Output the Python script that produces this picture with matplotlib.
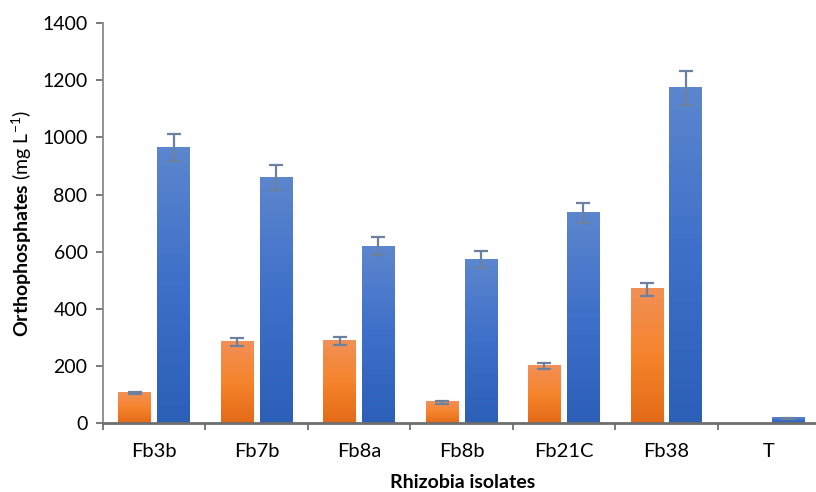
import numpy as np
import matplotlib.pyplot as plt
from matplotlib.colors import LinearSegmentedColormap

plt.rcParams['font.family'] = ['Lato', 'DejaVu Sans']
plt.rcParams['mathtext.fontset'] = 'custom'
plt.rcParams['mathtext.rm'] = 'Lato'
plt.rcParams['mathtext.bf'] = 'Lato:bold'
plt.rcParams['mathtext.it'] = 'Lato:italic'

isolates = ['Fb3b', 'Fb7b', 'Fb8a', 'Fb8b', 'Fb21C', 'Fb38', 'T']
orange_vals = [106, 284, 287, 74, 200, 469, 0]
orange_err = [5, 14, 14, 5, 11, 23, 0]
blue_vals = [964, 860, 619, 573, 737, 1174, 18]
blue_err = [48, 44, 32, 29, 35, 59, 2]

orange_cmap = LinearSegmentedColormap.from_list('og', ['#E46A17', '#F5842C', '#F29057'])
blue_cmap = LinearSegmentedColormap.from_list('bg', ['#2C5FB8', '#3E6FC9', '#5C86CE'])

fig = plt.figure(figsize=(8.16, 4.92), dpi=100)
ax = fig.add_axes([0.126, 0.1396, 0.879, 0.8136])

x = np.arange(len(isolates))
width = 0.32
offset = 0.19
grad = np.linspace(0, 1, 256).reshape(-1, 1)

def gradient_bars(xpos, vals, cmap):
    bars = ax.bar(xpos, vals, width, color='none', edgecolor='none', zorder=2)
    for b in bars:
        h = b.get_height()
        if h <= 0:
            continue
        x0 = b.get_x()
        ax.imshow(grad, extent=[x0, x0 + b.get_width(), 0, h], origin='lower',
                  aspect='auto', cmap=cmap, zorder=2)
    return bars

gradient_bars(x - offset, orange_vals, orange_cmap)
gradient_bars(x + offset, blue_vals, blue_cmap)

err_kw = dict(fmt='none', ecolor='#6B819E', elinewidth=1.6, capsize=5, capthick=1.6, zorder=3)
ax.errorbar(x[:-1] - offset, orange_vals[:-1], yerr=orange_err[:-1], **err_kw)
ax.errorbar(x + offset, blue_vals, yerr=blue_err, **err_kw)

ax.set_xlim(-0.5, 6.5)
ax.set_ylim(0, 1400)
ax.set_yticks(range(0, 1401, 200))
ax.set_xticks(x)
ax.set_xticklabels(isolates)
ax.set_xticks(np.arange(-0.5, 6.6, 1), minor=True)
ax.tick_params(axis='x', which='major', length=0, pad=14, labelsize=14.5)
ax.tick_params(axis='x', which='minor', length=5, width=1.3, color='#707070')
ax.tick_params(axis='y', length=5, width=1.3, color='#707070', labelsize=14, pad=6)

for s in ['top', 'right']:
    ax.spines[s].set_visible(False)
ax.spines['left'].set_color('#8A8A8A')
ax.spines['left'].set_linewidth(1.3)
ax.spines['bottom'].set_color('#6E6E6E')
ax.spines['bottom'].set_linewidth(2)
ax.spines['left'].set_zorder(4)
ax.spines['bottom'].set_zorder(4)

ax.set_ylabel(r'$\bf{Orthophosphates}$ (mg L$^{-1}$)', fontsize=14, labelpad=6)
fig.text(0.567, 1 - 482 / 492, 'Rhizobia isolates', fontsize=14, fontweight='bold',
         ha='center', va='center')

fig.savefig('out.png', dpi=100)
